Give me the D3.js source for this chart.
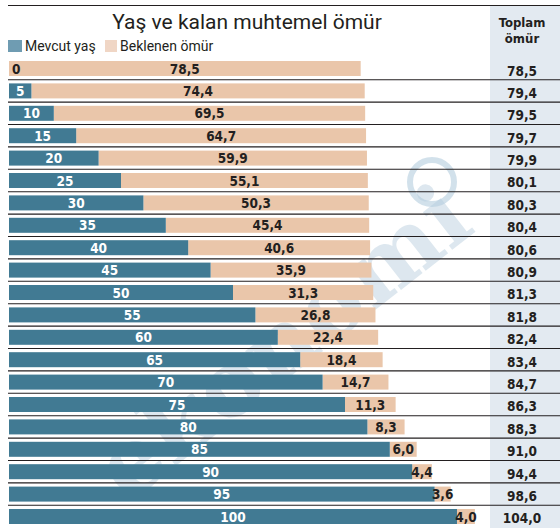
<!DOCTYPE html>
<html>
<head>
<meta charset="utf-8">
<script src="https://cdn.jsdelivr.net/npm/d3@7"></script>
<style>
  body { margin: 0; background: #fff; }
  svg { display: block; }
  text { font-family: "DejaVu Sans Condensed", "DejaVu Sans", sans-serif; }
</style>
</head>
<body>
<div class="chart"></div>
<script>
const ages = [0, 5, 10, 15, 20, 25, 30, 35, 40, 45, 50, 55, 60, 65, 70, 75, 80, 85, 90, 95, 100];
const remaining = [78.5, 74.4, 69.5, 64.7, 59.9, 55.1, 50.3, 45.4, 40.6, 35.9, 31.3, 26.8, 22.4, 18.4, 14.7, 11.3, 8.3, 6.0, 4.4, 3.6, 4.0];
const totals = [78.5, 79.4, 79.5, 79.7, 79.9, 80.1, 80.3, 80.4, 80.6, 80.9, 81.3, 81.8, 82.4, 83.4, 84.7, 86.3, 88.3, 91.0, 94.4, 98.6, 104.0];
const seriesNames = ['Mevcut yaş', 'Beklenen ömür'];
const title = 'Yaş ve kalan muhtemel ömür';
const totalHeader = ['Toplam', 'ömür'];

const rows = ages.map((a, i) => ({age: a, rest: remaining[i], total: totals[i]}));

const WIDTH = 560;
const HEIGHT = 528;
const TEAL = '#417a93';
const BEIGE = '#eac6aa';
const colBg = '#e3eaf1';
const dark = '#231f20';

const fmt = v => d3.format('.1f')(v).replace('.', ',');

const svg = d3.select('.chart')
  .append('svg')
    .attr('width', WIDTH)
    .attr('height', HEIGHT);

const x = d3.scaleLinear()
  .domain([0, 100])
  .range([9, 457]);

const y = d3.scaleBand()
  .domain(ages)
  .range([61, 524])
  .paddingInner(0.33)
  .paddingOuter(0);

const bw = y.bandwidth();
const gap = y.step() - bw;

// right "Toplam ömür" column
svg.append('rect')
  .attr('x', 490).attr('y', 5)
  .attr('width', WIDTH - 490).attr('height', HEIGHT - 5)
  .attr('fill', colBg);

svg.append('line')
  .attr('x1', 8).attr('x2', WIDTH)
  .attr('y1', 5.5).attr('y2', 5.5)
  .attr('stroke', dark).attr('stroke-width', 1.2);

svg.append('text')
  .attr('x', 247).attr('y', 29)
  .attr('text-anchor', 'middle')
  .style('font-family', 'Roboto, sans-serif')
  .attr('font-size', 21)
  .attr('fill', dark)
  .text(title);

svg.selectAll('.hdr')
  .data(totalHeader)
  .enter().append('text')
    .attr('class', 'hdr')
    .attr('x', 522)
    .attr('y', (d, i) => 27 + i * 16)
    .attr('text-anchor', 'middle')
    .attr('font-size', 13)
    .attr('font-weight', 'bold')
    .attr('fill', dark)
    .text(d => d);

// legend
const legend = svg.append('g');
legend.append('rect').attr('x', 8).attr('y', 40).attr('width', 14).attr('height', 12).attr('fill', '#6f9cb2');
legend.append('text').attr('x', 25).attr('y', 51)
  .style('font-family', 'Roboto, sans-serif').attr('font-size', 14).attr('fill', dark).text(seriesNames[0]);
legend.append('rect').attr('x', 105).attr('y', 40).attr('width', 12).attr('height', 12).attr('fill', '#f0d6c5');
legend.append('text').attr('x', 120).attr('y', 51)
  .style('font-family', 'Roboto, sans-serif').attr('font-size', 14).attr('fill', dark).text(seriesNames[1]);

// watermark
const wm = svg.append('g')
  .attr('transform', 'translate(285, 345) rotate(-38)')
  .attr('opacity', 0.35);
wm.append('text')
  .attr('text-anchor', 'middle')
  .attr('y', 28)
  .style('font-family', '"DejaVu Serif", serif')
  .attr('font-size', 92)
  .attr('font-weight', 'bold')
  .attr('fill', '#9fbdd2')
  .text('ekonomi');
svg.append('circle')
  .attr('cx', 432).attr('cy', 182).attr('r', 22)
  .attr('fill', 'none').attr('stroke', '#b4cddd').attr('stroke-width', 6).attr('opacity', 0.6);

// row separators
svg.selectAll('.sep')
  .data(rows.slice(0, -1))
  .enter().append('line')
    .attr('class', 'sep')
    .attr('x1', 8).attr('x2', WIDTH)
    .attr('y1', d => y(d.age) + bw + gap / 2)
    .attr('y2', d => y(d.age) + bw + gap / 2)
    .attr('stroke', dark).attr('stroke-width', 1.1);

const row = svg.selectAll('.row')
  .data(rows)
  .enter().append('g')
    .attr('class', 'row')
    .attr('transform', d => `translate(0, ${y(d.age)})`);

row.append('rect')
  .attr('x', d => x(d.age))
  .attr('width', d => x(d.total) - x(d.age))
  .attr('height', bw)
  .attr('fill', BEIGE);

row.filter(d => d.age > 0).append('rect')
  .attr('x', x(0))
  .attr('width', d => x(d.age) - x(0))
  .attr('height', bw)
  .attr('fill', TEAL);

row.append('text')
  .attr('x', d => d.age > 0 ? (x(0) + x(d.age)) / 2 : x(0) + 3)
  .attr('y', bw / 2 + 5)
  .attr('text-anchor', d => d.age > 0 ? 'middle' : 'start')
  .attr('font-size', 13.5)
  .attr('font-weight', 'bold')
  .attr('fill', d => d.age > 0 ? '#fff' : dark)
  .text(d => d.age);

row.append('text')
  .attr('x', d => (x(d.age) + x(d.total)) / 2)
  .attr('y', bw / 2 + 5)
  .attr('text-anchor', 'middle')
  .attr('font-size', 13.5)
  .attr('font-weight', 'bold')
  .attr('fill', dark)
  .text(d => fmt(d.rest));

row.append('text')
  .attr('x', 522)
  .attr('y', bw / 2 + 7)
  .attr('text-anchor', 'middle')
  .attr('font-size', 13.5)
  .attr('font-weight', 'bold')
  .attr('fill', dark)
  .text(d => fmt(d.total));
</script>
</body>
</html>
